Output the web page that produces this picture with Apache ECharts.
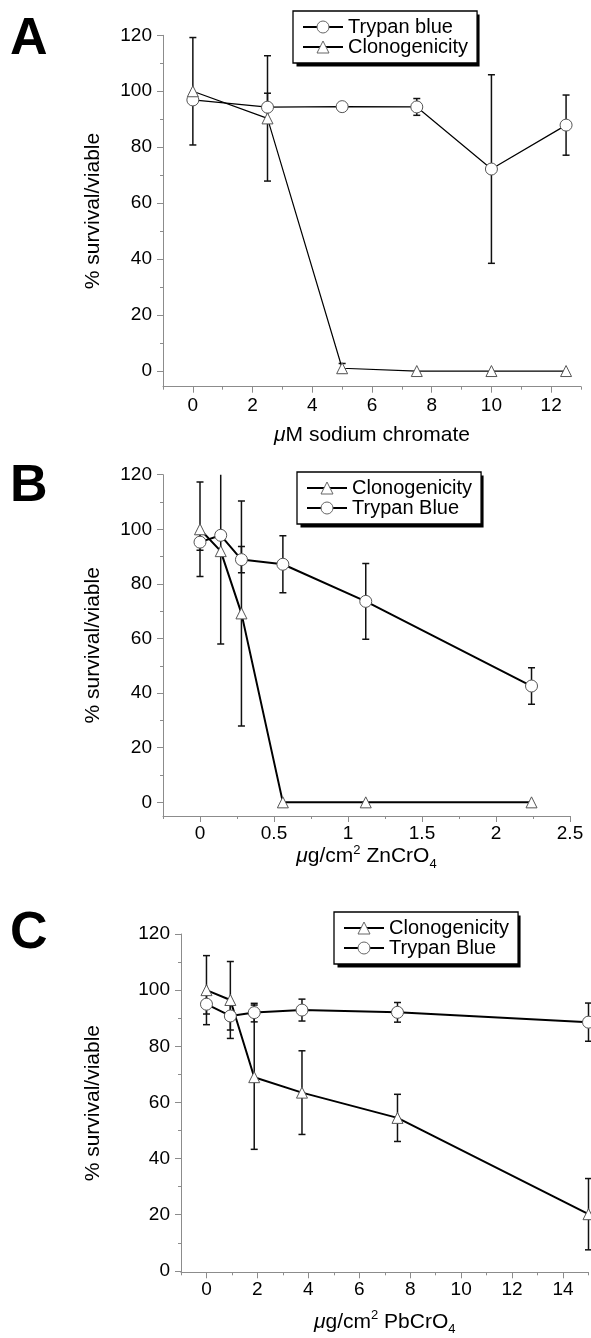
<!DOCTYPE html>
<html><head><meta charset="utf-8">
<script src="https://cdn.jsdelivr.net/npm/echarts@6/dist/echarts.min.js"></script>
<style>html,body{margin:0;padding:0;background:#fff}#c{width:591px;height:1338px}</style>
</head><body><div id="c"></div>
<script>
const FONT = '"Liberation Sans", Arial, Helvetica, sans-serif';

// ---- tick labels ----
const yTicks = [0, 20, 40, 60, 80, 100, 120];
const yMinor = [10, 30, 50, 70, 90, 110];
const aXTicks = [0, 2, 4, 6, 8, 10, 12];
const aXMinor = [-1, 1, 3, 5, 7, 9, 11, 13];
const bXTicks = [0, 0.5, 1, 1.5, 2, 2.5];
const bXMinor = [-0.25, 0.25, 0.75, 1.25, 1.75, 2.25];
const cXTicks = [0, 2, 4, 6, 8, 10, 12, 14];
const cXMinor = [-1, 1, 3, 5, 7, 9, 11, 13, 15];

// ---- panel A: sodium chromate ----
const aX = [0, 2.5, 5, 7.5, 10, 12.5];
const aTrypan = [96.9, 94.3, 94.5, 94.4, 72.2, 87.9];
const aTrypanErr = [0, 5, 0, 3, 33.7, 10.75];
const aClono = [100, 90.3, 1.0, 0, 0, 0];
const aClonoErr = [19.2, 22.4, 1.7, 0, 0, 0];

// ---- panel B: ZnCrO4 ----
const bX = [0, 0.14, 0.28, 0.56, 1.12, 2.24];
const bClono = [100, 92, 69.2, 0, 0, 0];
const bClonoErr = [17.3, 34, 41.2, 0, 0, 0];
const bTrypan = [95.3, 97.8, 88.9, 87.2, 73.6, 42.6];
const bTrypanErr = [3, 0, 4.8, 10.4, 13.9, 6.7];

// ---- panel C: PbCrO4 ----
const cX = [0, 0.9375, 1.875, 3.75, 7.5, 15];
const cClono = [100, 96.5, 69, 63.5, 54.5, 20.2];
const cClonoErr = [12.3, 13.7, 25.7, 14.9, 8.4, 12.7];
const cTrypan = [95, 90.8, 92, 92.9, 92.1, 88.6];
const cTrypanErr = [3.5, 5, 3.3, 3.9, 3.5, 6.8];

const AXC = '#8c8c8c';

function pts(xs, ys) { return xs.map((x, i) => [x, ys[i]]); }
function bars(xs, ys, errs) {
  const out = [];
  xs.forEach((x, i) => { if (errs[i] > 0) out.push([x, ys[i] - errs[i], ys[i] + errs[i]]); });
  return out;
}
function errRender(params, api) {
  const x = api.value(0), lo = api.value(1), hi = api.value(2);
  const t = api.coord([x, hi]), b = api.coord([x, lo]);
  const w = 3.5;
  const st = { stroke: '#111', lineWidth: 1.5, fill: null };
  return { type: 'group', children: [
    { type: 'line', shape: { x1: t[0], y1: t[1], x2: b[0], y2: b[1] }, style: st },
    { type: 'line', shape: { x1: t[0] - w, y1: t[1], x2: t[0] + w, y2: t[1] }, style: st },
    { type: 'line', shape: { x1: b[0] - w, y1: b[1], x2: b[0] + w, y2: b[1] }, style: st }
  ]};
}

const nameRich = {
  i: { fontStyle: 'italic', fontSize: 21, fontFamily: FONT, color: '#000' },
  sup: { fontSize: 13, fontFamily: FONT, color: '#000', padding: [0, 0, 12, 0] },
  sub: { fontSize: 13, fontFamily: FONT, color: '#000', padding: [16, 0, 0, 0] }
};

function mkX(g, min, max, ticks, minor, name, gap, margin) {
  return [{
    type: 'value', gridIndex: g, position: 'bottom', min: min, max: max,
    name: name, nameLocation: 'middle', nameGap: gap,
    nameTextStyle: { fontSize: 21, color: '#000', fontFamily: FONT, rich: nameRich },
    axisLine: { show: true, onZero: false, lineStyle: { color: AXC, width: 1 } },
    axisTick: { show: true, length: 6, customValues: ticks, lineStyle: { color: AXC, width: 1 } },
    axisLabel: { show: true, customValues: ticks, fontSize: 19, color: '#000', fontFamily: FONT, margin: margin },
    splitLine: { show: false }
  }, {
    type: 'value', gridIndex: g, position: 'bottom', min: min, max: max,
    axisLine: { show: false, onZero: false },
    axisTick: { show: true, length: 3, customValues: minor, lineStyle: { color: AXC, width: 1 } },
    axisLabel: { show: false },
    splitLine: { show: false }
  }];
}
function mkY(g, min, gap) {
  return [{
    type: 'value', gridIndex: g, position: 'left', min: min, max: 120,
    name: '% survival/viable', nameLocation: 'middle', nameGap: gap, nameRotate: 90,
    nameTextStyle: { fontSize: 21, color: '#000', fontFamily: FONT },
    axisLine: { show: true, onZero: false, lineStyle: { color: AXC, width: 1 } },
    axisTick: { show: true, length: 6, customValues: yTicks, lineStyle: { color: AXC, width: 1 } },
    axisLabel: { show: true, customValues: yTicks, fontSize: 19, color: '#000', fontFamily: FONT, margin: 11 },
    splitLine: { show: false }
  }, {
    type: 'value', gridIndex: g, position: 'left', min: min, max: 120,
    axisLine: { show: false, onZero: false },
    axisTick: { show: true, length: 3, customValues: yMinor, lineStyle: { color: AXC, width: 1 } },
    axisLabel: { show: false },
    splitLine: { show: false }
  }];
}

function lineS(name, xi, yi, data, sym, lw) {
  return {
    type: 'line', name: name, xAxisIndex: xi, yAxisIndex: yi, data: data,
    symbol: sym, symbolSize: sym === 'circle' ? 12 : 11,
    itemStyle: { color: '#fff', borderColor: '#555', borderWidth: 1 },
    lineStyle: { color: '#000', width: lw },
    z: 4, clip: false, animation: false, silent: true
  };
}
function errS(xi, yi, data, clip) {
  return {
    type: 'custom', xAxisIndex: xi, yAxisIndex: yi, data: data,
    renderItem: errRender, encode: { x: 0, y: [1, 2] }, clip: clip,
    z: 2, silent: true, animation: false
  };
}

// legend geometry helpers
const LPAD = [6, 9, 6, 9], LITEMW = 40, LROW = 20;
const mctx = document.createElement('canvas').getContext('2d');
mctx.font = '20px ' + FONT;
function legendBox(names, left, top) {
  const tw = Math.max.apply(null, names.map(n => mctx.measureText(n.slice(2)).width));
  const w = LPAD[3] + LITEMW + 5 + tw + LPAD[1];
  const h = LPAD[0] + names.length * LROW + LPAD[2];
  return { w: w, h: h, left: left, top: top };
}
const legendBase = {
  orient: 'vertical', itemGap: 0, itemWidth: LITEMW, itemHeight: 15,
  padding: LPAD, backgroundColor: '#fff', borderColor: '#000', borderWidth: 1.3,
  selectedMode: false, z: 10,
  itemStyle: { color: '#fff', borderColor: '#666', borderWidth: 1 },
  textStyle: { fontSize: 20, color: '#000', fontFamily: FONT, lineHeight: LROW },
  formatter: n => n.slice(2)
};
const legA = ['A:Trypan blue', 'A:Clonogenicity'];
const legB = ['B:Clonogenicity', 'B:Trypan Blue'];
const legC = ['C:Clonogenicity', 'C:Trypan Blue'];
const boxes = [legendBox(legA, 293, 11), legendBox(legB, 297, 472), legendBox(legC, 334, 912)];
function shadowRect(b) {
  return { type: 'rect', left: b.left + 3.5, top: b.top + 3.5, z: 1,
    shape: { width: b.w, height: b.h }, style: { fill: '#000' } };
}

const xA = mkX(0, -1, 13, aXTicks, aXMinor, '{i|μ}M sodium chromate', 38, 10);
const xB = mkX(1, -0.25, 2.5, bXTicks, bXMinor, '{i|μ}g/cm{sup|2} ZnCrO{sub|4}', 26, 8);
const xC = mkX(2, -1, 15, cXTicks, cXMinor, '{i|μ}g/cm{sup|2} PbCrO{sub|4}', 35, 8);
const yA = mkY(0, -5.6, 59);
const yB = mkY(1, -5, 59);
const yC = mkY(2, -0.5, 77);

const option = {
  backgroundColor: '#fff',
  animation: false,
  grid: [
    { left: 163, top: 35.3, right: 10, height: 351.4 },
    { left: 163, top: 474.7, right: 21, height: 341.3 },
    { left: 181, top: 934, right: 2.5, height: 338.3 }
  ],
  xAxis: [xA[0], xA[1], xB[0], xB[1], xC[0], xC[1]],
  yAxis: [yA[0], yA[1], yB[0], yB[1], yC[0], yC[1]],
  legend: [
    Object.assign({}, legendBase, { data: legA, left: boxes[0].left, top: boxes[0].top }),
    Object.assign({}, legendBase, { data: legB, left: boxes[1].left, top: boxes[1].top }),
    Object.assign({}, legendBase, { data: legC, left: boxes[2].left, top: boxes[2].top })
  ],
  graphic: [
    shadowRect(boxes[0]), shadowRect(boxes[1]), shadowRect(boxes[2]),
    { type: 'text', left: 10, top: 14, style: { text: 'A', font: 'bold 52px ' + FONT, fill: '#000' } },
    { type: 'text', left: 10, top: 461, style: { text: 'B', font: 'bold 52px ' + FONT, fill: '#000' } },
    { type: 'text', left: 10, top: 908, style: { text: 'C', font: 'bold 52px ' + FONT, fill: '#000' } }
  ],
  series: [
    errS(0, 0, bars(aX, aTrypan, aTrypanErr), false),
    errS(0, 0, bars(aX, aClono, aClonoErr), false),
    lineS('A:Trypan blue', 0, 0, pts(aX, aTrypan), 'circle', 1.2),
    lineS('A:Clonogenicity', 0, 0, pts(aX, aClono), 'triangle', 1.2),

    errS(2, 2, bars(bX, bClono, bClonoErr), true),
    errS(2, 2, bars(bX, bTrypan, bTrypanErr), true),
    lineS('B:Clonogenicity', 2, 2, pts(bX, bClono), 'triangle', 2),
    lineS('B:Trypan Blue', 2, 2, pts(bX, bTrypan), 'circle', 2),

    errS(4, 4, bars(cX, cClono, cClonoErr), false),
    errS(4, 4, bars(cX, cTrypan, cTrypanErr), false),
    lineS('C:Clonogenicity', 4, 4, pts(cX, cClono), 'triangle', 2),
    lineS('C:Trypan Blue', 4, 4, pts(cX, cTrypan), 'circle', 2)
  ]
};

const chart = echarts.init(document.getElementById('c'), null, { renderer: 'canvas' });
chart.setOption(option);
</script>
</body></html>
